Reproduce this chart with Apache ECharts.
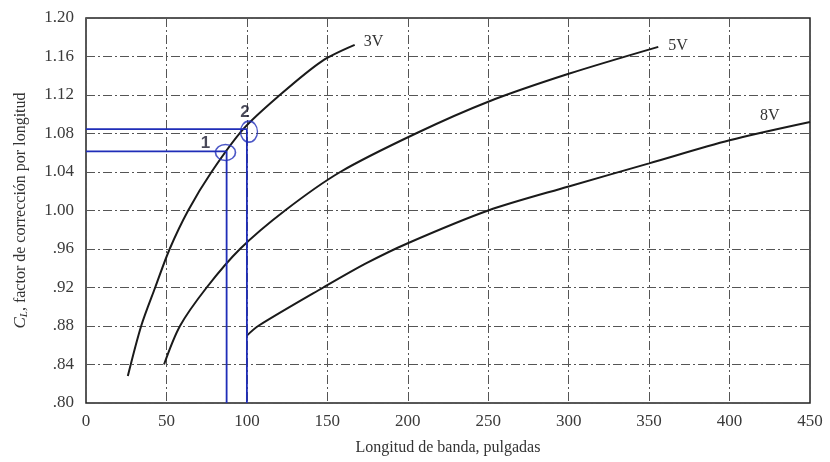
<!DOCTYPE html>
<html>
<head>
<meta charset="utf-8">
<script src="https://cdn.jsdelivr.net/npm/echarts@6/dist/echarts.min.js"></script>
<style>
html,body{margin:0;padding:0;background:#fff;}
#chart{width:830px;height:462px;}
</style>
</head>
<body>
<div id="chart"></div>
<script>
// ---- data ----
var len3V = [26, 34.3, 43, 52, 63.5, 78, 98, 120.5, 146.5, 167];
var cl3V  = [0.828, 0.88, 0.92, 0.96, 1.00, 1.04, 1.085, 1.12, 1.155, 1.172];

var len5V = [48.5, 58.4, 75, 95.7, 123.7, 158, 205, 250, 300, 355.7];
var cl5V  = [0.84, 0.88, 0.92, 0.96, 1.00, 1.04, 1.08, 1.113, 1.142, 1.170];

var len8V = [100, 107, 147.5, 174, 200, 250, 300, 350, 400, 450];
var cl8V  = [0.870, 0.88, 0.92, 0.945, 0.966, 1.00, 1.025, 1.049, 1.073, 1.092];

// reading guides (point 1 and point 2)
var guide1X = [0, 87.4, 87.4];
var guide1Y = [1.0615, 1.0615, 0.80];
var guide2X = [0, 100, 100];
var guide2Y = [1.0845, 1.0845, 0.80];
var markX = [86.7, 101.3];
var markY = [1.0603, 1.0819];
var markNames = ['1', '2'];

var xTickLabels = ['0','50','100','150','200','250','300','350','400','450'];
var yTickLabels = ['.80','.84','.88','.92','.96','1.00','1.04','1.08','1.12','1.16','1.20'];

function zip(a, b) { return a.map(function (v, i) { return [v, b[i]]; }); }

var serif = '"Liberation Serif", "DejaVu Serif", serif';
var gridLine = { color: '#555', width: 1, type: [9, 3, 2, 3] };
var blue = '#1f2db8';

var chart = echarts.init(document.getElementById('chart'), null, { renderer: 'canvas' });
chart.setOption({
  backgroundColor: '#fff',
  animation: false,
  grid: { left: 86, right: 20, top: 18, bottom: 59, show: true, borderColor: '#222', borderWidth: 1.5, backgroundColor: 'transparent' },
  xAxis: {
    type: 'value', min: 0, max: 450, interval: 50,
    axisLine: { show: false }, axisTick: { show: false },
    splitLine: { show: true, lineStyle: gridLine },
    axisLabel: { margin: 10, color: '#3a3a3a', fontFamily: serif, fontSize: 17,
      formatter: function (v) { return xTickLabels[Math.round(v / 50)]; } },
    name: 'Longitud de banda, pulgadas', nameLocation: 'middle', nameGap: 37,
    nameTextStyle: { color: '#333', fontFamily: serif, fontSize: 16 }
  },
  yAxis: {
    type: 'value', min: 0.8, max: 1.2, interval: 0.04,
    axisLine: { show: false }, axisTick: { show: false },
    splitLine: { show: true, lineStyle: gridLine },
    axisLabel: { margin: 12, color: '#3a3a3a', fontFamily: serif, fontSize: 17,
      formatter: function (v) { return yTickLabels[Math.round((v - 0.8) / 0.04)]; } },
    name: '{c|C}{l|L}{t|, factor de corrección por longitud}',
    nameLocation: 'middle', nameGap: 56,
    nameTextStyle: {
      color: '#333', fontFamily: serif, fontSize: 16,
      rich: {
        c: { fontFamily: serif, fontStyle: 'italic', fontSize: 17, color: '#333' },
        l: { fontFamily: serif, fontStyle: 'italic', fontSize: 11, color: '#333', padding: [7, 0, 0, 0] },
        t: { fontFamily: serif, fontSize: 16, color: '#333' }
      }
    }
  },
  series: [
    { type: 'line', data: zip(len3V, cl3V), smooth: 0.3, showSymbol: false,
      lineStyle: { color: '#1a1a1a', width: 2 },
      endLabel: { show: true, formatter: '3V', color: '#333', fontFamily: serif, fontSize: 16, offset: [1, -3] } },
    { type: 'line', data: zip(len5V, cl5V), smooth: 0.3, showSymbol: false,
      lineStyle: { color: '#1a1a1a', width: 2 },
      endLabel: { show: true, formatter: '5V', color: '#333', fontFamily: serif, fontSize: 16, offset: [2, -1] } },
    { type: 'line', data: zip(len8V, cl8V), smooth: 0.3, showSymbol: false,
      lineStyle: { color: '#1a1a1a', width: 2 },
      endLabel: { show: true, formatter: '8V', color: '#333', fontFamily: serif, fontSize: 16, offset: [-58, -6] } },
    { type: 'line', data: zip(guide1X, guide1Y), showSymbol: false, z: 4, lineStyle: { color: blue, width: 1.8 } },
    { type: 'line', data: zip(guide2X, guide2Y), showSymbol: false, z: 4, lineStyle: { color: blue, width: 1.8 } },
    { type: 'scatter', data: [
        { value: [markX[0], markY[0]], symbolSize: [20, 16], label: { formatter: markNames[0], offset: [-20, -9] } },
        { value: [markX[1], markY[1]], symbolSize: [17, 21], label: { formatter: markNames[1], offset: [-4, -19] } }
      ],
      symbol: 'circle',
      itemStyle: { color: 'rgba(0,0,0,0)', borderColor: blue, borderWidth: 1.5 },
      label: { show: true, position: 'inside', color: '#1c1c30', fontFamily: '"Liberation Sans", Arial, sans-serif', fontWeight: 'bold', fontSize: 17 },
      z: 5 }
  ]
});
</script>
</body>
</html>
